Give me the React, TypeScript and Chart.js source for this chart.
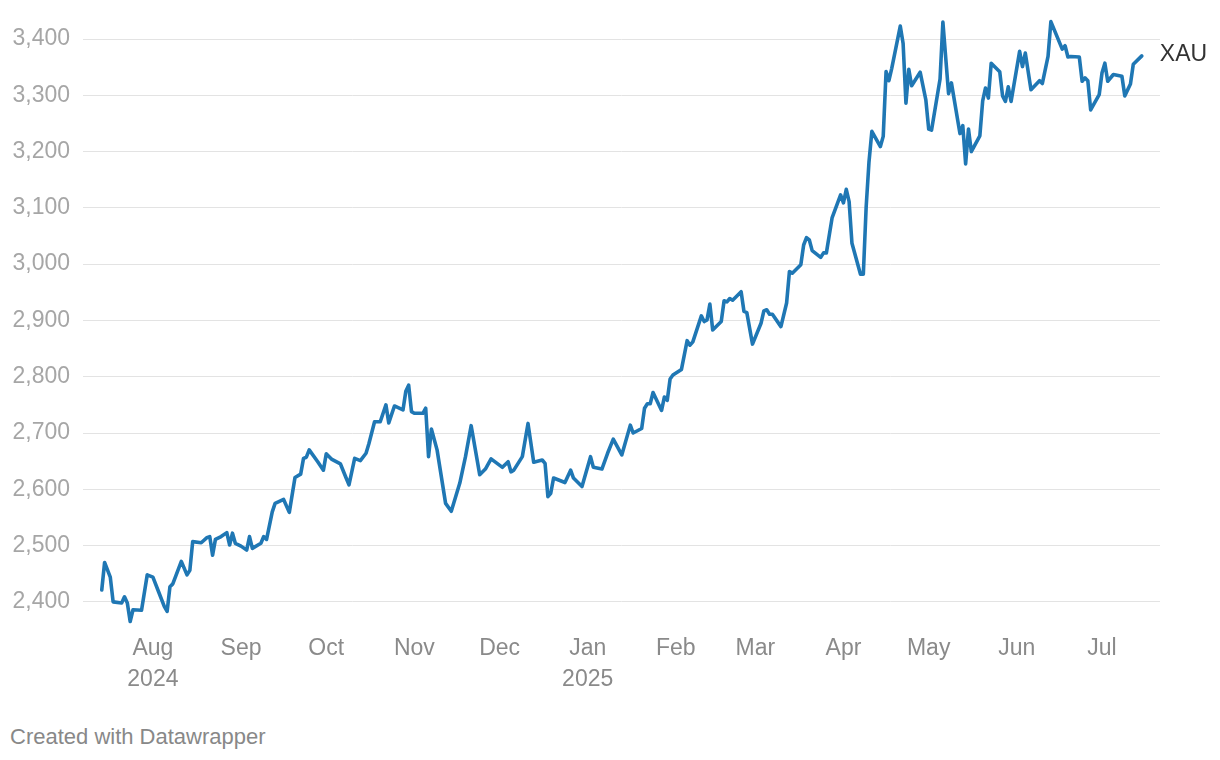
import React, { useEffect, useRef } from "react";
import { Chart, registerables } from "chart.js";

Chart.register(...registerables);

const seriesName = "XAU";

const dates = [
  "2024-07-14", "2024-07-15", "2024-07-17", "2024-07-18", "2024-07-21", "2024-07-22", "2024-07-23", "2024-07-24",
  "2024-07-25", "2024-07-28", "2024-07-30", "2024-08-01", "2024-08-03", "2024-08-05", "2024-08-06", "2024-08-07",
  "2024-08-08", "2024-08-11", "2024-08-13", "2024-08-14", "2024-08-15", "2024-08-18", "2024-08-20", "2024-08-21",
  "2024-08-22", "2024-08-23", "2024-08-25", "2024-08-27", "2024-08-28", "2024-08-29", "2024-08-30", "2024-09-01",
  "2024-09-03", "2024-09-04", "2024-09-05", "2024-09-08", "2024-09-09", "2024-09-10", "2024-09-12", "2024-09-13",
  "2024-09-16", "2024-09-18", "2024-09-20", "2024-09-22", "2024-09-23", "2024-09-24", "2024-09-25", "2024-09-28",
  "2024-09-30", "2024-10-01", "2024-10-03", "2024-10-06", "2024-10-08", "2024-10-09", "2024-10-11", "2024-10-13",
  "2024-10-15", "2024-10-16", "2024-10-18", "2024-10-20", "2024-10-22", "2024-10-23", "2024-10-25", "2024-10-28",
  "2024-10-29", "2024-10-30", "2024-10-31", "2024-11-01", "2024-11-04", "2024-11-05", "2024-11-06", "2024-11-07",
  "2024-11-09", "2024-11-12", "2024-11-14", "2024-11-17", "2024-11-19", "2024-11-21", "2024-11-24", "2024-11-26",
  "2024-11-28", "2024-12-02", "2024-12-04", "2024-12-05", "2024-12-06", "2024-12-09", "2024-12-11", "2024-12-13",
  "2024-12-16", "2024-12-17", "2024-12-18", "2024-12-19", "2024-12-20", "2024-12-24", "2024-12-26", "2024-12-27",
  "2024-12-30", "2025-01-02", "2025-01-03", "2025-01-06", "2025-01-08", "2025-01-10", "2025-01-13", "2025-01-16",
  "2025-01-17", "2025-01-20", "2025-01-21", "2025-01-22", "2025-01-23", "2025-01-24", "2025-01-27", "2025-01-28",
  "2025-01-29", "2025-01-30", "2025-01-31", "2025-02-03", "2025-02-05", "2025-02-06", "2025-02-07", "2025-02-10",
  "2025-02-11", "2025-02-12", "2025-02-13", "2025-02-14", "2025-02-17", "2025-02-18", "2025-02-19", "2025-02-20",
  "2025-02-21", "2025-02-24", "2025-02-25", "2025-02-26", "2025-02-28", "2025-03-03", "2025-03-04", "2025-03-05",
  "2025-03-06", "2025-03-07", "2025-03-10", "2025-03-12", "2025-03-13", "2025-03-14", "2025-03-17", "2025-03-18",
  "2025-03-19", "2025-03-20", "2025-03-21", "2025-03-24", "2025-03-25", "2025-03-26", "2025-03-28", "2025-03-31",
  "2025-04-01", "2025-04-02", "2025-04-03", "2025-04-04", "2025-04-07", "2025-04-08", "2025-04-09", "2025-04-10",
  "2025-04-11", "2025-04-14", "2025-04-15", "2025-04-16", "2025-04-17", "2025-04-18", "2025-04-21", "2025-04-22",
  "2025-04-23", "2025-04-24", "2025-04-25", "2025-04-28", "2025-04-30", "2025-05-01", "2025-05-02", "2025-05-05",
  "2025-05-06", "2025-05-08", "2025-05-09", "2025-05-12", "2025-05-13", "2025-05-14", "2025-05-15", "2025-05-16",
  "2025-05-19", "2025-05-20", "2025-05-21", "2025-05-22", "2025-05-23", "2025-05-26", "2025-05-27", "2025-05-28",
  "2025-05-29", "2025-05-30", "2025-06-02", "2025-06-03", "2025-06-04", "2025-06-06", "2025-06-09", "2025-06-10",
  "2025-06-12", "2025-06-13", "2025-06-17", "2025-06-18", "2025-06-19", "2025-06-20", "2025-06-23", "2025-06-24",
  "2025-06-25", "2025-06-26", "2025-06-27", "2025-06-30", "2025-07-01", "2025-07-02", "2025-07-03", "2025-07-05",
  "2025-07-08", "2025-07-09", "2025-07-11", "2025-07-12", "2025-07-15",
];

const prices = [
  2421, 2470, 2444, 2400, 2398, 2409, 2398, 2365,
  2386, 2385, 2448, 2444, 2418, 2392, 2383, 2427,
  2432, 2472, 2448, 2456, 2507, 2505, 2514, 2516,
  2483, 2511, 2516, 2523, 2501, 2522, 2504, 2499,
  2492, 2516, 2495, 2504, 2516, 2511, 2560, 2575,
  2582, 2559, 2621, 2627, 2655, 2657, 2670, 2649,
  2634, 2663, 2653, 2645, 2620, 2608, 2655, 2651,
  2664, 2681, 2720, 2720, 2750, 2718, 2748, 2741,
  2774, 2785, 2738, 2735, 2735, 2744, 2658, 2707,
  2670, 2575, 2561, 2611, 2658, 2713, 2626, 2636,
  2654, 2639, 2649, 2631, 2634, 2658, 2717, 2648,
  2652, 2646, 2587, 2593, 2620, 2612, 2634, 2620,
  2605, 2658, 2639, 2636, 2664, 2689, 2661, 2714,
  2700, 2708, 2744, 2752, 2752, 2772, 2740, 2764,
  2758, 2796, 2803, 2813, 2864, 2856, 2862, 2908,
  2898, 2901, 2929, 2883, 2898, 2935, 2933, 2939,
  2936, 2951, 2916, 2914, 2858, 2895, 2917, 2919,
  2911, 2911, 2889, 2931, 2987, 2984, 2999, 3034,
  3047, 3043, 3024, 3012, 3020, 3020, 3082, 3123,
  3109, 3133, 3111, 3037, 2982, 2982, 3102, 3182,
  3236, 3209, 3227, 3342, 3326, 3348, 3423, 3392,
  3286, 3346, 3317, 3341, 3292, 3240, 3238, 3329,
  3430, 3303, 3322, 3232, 3246, 3178, 3240, 3200,
  3228, 3290, 3313, 3295, 3357, 3342, 3299, 3289,
  3315, 3289, 3378, 3351, 3375, 3310, 3326, 3321,
  3369, 3431, 3382, 3388, 3368, 3369, 3368, 3325,
  3331, 3326, 3274, 3301, 3340, 3357, 3325, 3337,
  3334, 3299, 3320, 3355, 3370,
];

const monthTickDates = [
  "2024-08-01", "2024-09-01", "2024-10-01", "2024-11-01", "2024-12-01", "2025-01-01",
  "2025-02-01", "2025-03-01", "2025-04-01", "2025-05-01", "2025-06-01", "2025-07-01",
];
const monthLabels = ["Aug", "Sep", "Oct", "Nov", "Dec", "Jan", "Feb", "Mar", "Apr", "May", "Jun", "Jul"];
const yearLabels = ["2024", "", "", "", "", "2025", "", "", "", "", "", ""];

const yTicks = [2400, 2500, 2600, 2700, 2800, 2900, 3000, 3100, 3200, 3300, 3400];

const FONT = '"Liberation Sans", Arial, Helvetica, sans-serif';
const EPOCH = Date.UTC(2024, 7, 1);
const toDay = (s: string) => {
  const [y, m, d] = s.split("-").map(Number);
  return (Date.UTC(y, m - 1, d) - EPOCH) / 86400000;
};

const endLabelPlugin = {
  id: "endLabel",
  afterDatasetsDraw(chart: any) {
    const meta = chart.getDatasetMeta(0);
    const pt = meta.data[meta.data.length - 1];
    if (!pt) return;
    const ctx = chart.ctx;
    ctx.save();
    ctx.font = `23px ${FONT}`;
    ctx.fillStyle = "#333333";
    ctx.textBaseline = "middle";
    ctx.textAlign = "left";
    ctx.fillText(seriesName, pt.x + 18, pt.y - 1);
    ctx.restore();
  },
};

export default function App() {
  const ref = useRef<HTMLCanvasElement | null>(null);

  useEffect(() => {
    if (!ref.current) return;
    const tickDays = monthTickDates.map(toDay);
    const chart = new Chart(ref.current, {
      type: "line",
      data: {
        datasets: [
          {
            label: seriesName,
            data: dates.map((d, i) => ({ x: toDay(d), y: prices[i] })),
            borderColor: "#1f77b4",
            borderWidth: 3.6,
            pointRadius: 0,
            tension: 0,
            borderJoinStyle: "round",
            borderCapStyle: "round",
            fill: false,
          },
        ],
      },
      options: {
        animation: false,
        responsive: false,
        devicePixelRatio: 1,
        layout: { padding: { top: 16.5, right: 60, left: 0, bottom: 0 } },
        plugins: {
          legend: { display: false },
          tooltip: { enabled: false },
          title: { display: false },
        },
        scales: {
          x: {
            type: "linear",
            min: -24.6,
            max: 354.4,
            grid: { display: false, drawTicks: false },
            border: { display: false },
            afterBuildTicks: (scale: any) => {
              scale.ticks = tickDays.map((v) => ({ value: v }));
            },
            afterFit: (scale: any) => {
              scale.height = 70;
              scale.paddingLeft = 0;
              scale.paddingRight = 0;
            },
            ticks: {
              autoSkip: false,
              maxRotation: 0,
              minRotation: 0,
              padding: 3,
              color: "#8a8a8a",
              font: { family: FONT, size: 23, lineHeight: 1.35 },
              callback: (value: any) => {
                const i = tickDays.indexOf(Number(value));
                if (i < 0) return "";
                return yearLabels[i] ? [monthLabels[i], yearLabels[i]] : monthLabels[i];
              },
            },
          },
          y: {
            type: "linear",
            min: 2350,
            max: 3440,
            grid: { color: "#e3e3e3", lineWidth: 1, drawTicks: false },
            border: { display: false },
            afterBuildTicks: (scale: any) => {
              scale.ticks = yTicks.map((v) => ({ value: v }));
            },
            afterFit: (scale: any) => {
              scale.width = 83;
              scale.paddingTop = 0;
              scale.paddingBottom = 0;
            },
            ticks: {
              padding: 13,
              color: "#a6a6a6",
              font: { family: FONT, size: 23 },
              callback: (value: any) => Number(value).toLocaleString("en-US"),
            },
          },
        },
      },
      plugins: [endLabelPlugin],
    });
    return () => chart.destroy();
  }, []);

  return (
    <div
      style={{
        position: "absolute",
        left: 0,
        top: 0,
        width: 1220,
        height: 760,
        background: "#ffffff",
        overflow: "hidden",
      }}
    >
      <canvas ref={ref} width={1220} height={700} style={{ display: "block", width: 1220, height: 700 }} />
      <div
        style={{
          position: "absolute",
          left: 10,
          top: 725,
          fontFamily: FONT,
          fontSize: 22,
          lineHeight: "24px",
          color: "#888888",
        }}
      >
        Created with Datawrapper
      </div>
    </div>
  );
}
